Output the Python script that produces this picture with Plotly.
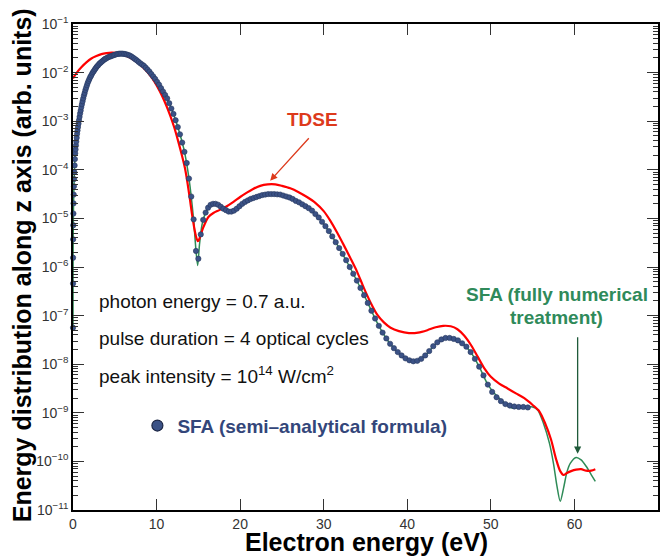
import plotly.graph_objects as go

# ---------------- data ----------------
# SFA semi-analytical formula: dots (electron energy in eV, log10 of distribution)
blue_energy = [
    0.0014, 0.0054, 0.0122, 0.0218, 0.034, 0.049, 0.0667, 0.0871, 0.110, 0.136,
    0.165, 0.196, 0.230, 0.267, 0.306, 0.348, 0.393, 0.441, 0.491, 0.544,
    0.600, 0.659, 0.720, 0.784, 0.850, 0.920, 0.992, 1.067, 1.144, 1.225,
    1.308, 1.393, 1.482, 1.573, 1.667, 1.763, 1.863, 1.965, 2.069, 2.177,
    2.287, 2.400, 2.516, 2.634, 2.755, 2.879, 3.005, 3.135, 3.267, 3.401,
    3.539, 3.679, 3.822, 3.967, 4.116, 4.267, 4.420, 4.577, 4.736, 4.898,
    5.063, 5.230, 5.400, 5.573, 5.748, 5.927, 6.108, 6.291, 6.478, 6.667,
    6.859, 7.053, 7.250, 7.450, 7.653, 7.859, 8.067, 8.278, 8.491, 8.708,
    8.927, 9.149, 9.373, 9.600, 9.830, 10.063, 10.298, 10.536, 10.777, 11.021,
    11.267, 11.516, 11.768, 12.022, 12.279, 12.539, 12.801, 13.067, 13.335, 13.606,
    13.879, 14.155, 14.434, 14.716, 15.000, 15.287, 15.577, 15.870, 16.165, 16.463,
    16.763, 17.067, 17.373, 17.682, 17.994, 18.308, 18.625, 18.945, 19.267, 19.592,
    19.920, 20.252, 20.585, 20.920, 21.259, 21.601, 21.945, 22.292, 22.641, 22.994,
    23.349, 23.706, 24.067, 24.430, 24.796, 25.165, 25.536, 25.910, 26.287, 26.667,
    27.049, 27.434, 27.822, 28.213, 28.606, 29.002, 29.401, 29.802, 30.206, 30.613,
    31.022, 31.434, 31.849, 32.267, 32.687, 33.111, 33.537, 33.966, 34.397, 34.831,
    35.268, 35.707, 36.149, 36.594, 37.042, 37.492, 37.945, 38.401, 38.860, 39.321,
    39.785, 40.251, 40.721, 41.193, 41.668, 42.145, 42.625, 43.108, 43.594, 44.083,
    44.574, 45.068, 45.564, 46.064, 46.566, 47.071, 47.578, 48.089, 48.602, 49.117,
    49.636, 50.157, 50.681, 51.207, 51.737, 52.269, 52.803, 53.341, 53.881, 54.423,
]
blue_log10 = [
    -7.25, -6.34, -5.81, -5.43, -5.14, -4.90, -4.69, -4.51, -4.34, -4.19,
    -4.05, -3.91, -3.78, -3.66, -3.58, -3.50, -3.42, -3.34, -3.26, -3.19,
    -3.12, -3.05, -2.98, -2.91, -2.84, -2.78, -2.71, -2.65, -2.59, -2.53,
    -2.47, -2.42, -2.36, -2.31, -2.26, -2.21, -2.17, -2.13, -2.09, -2.06,
    -2.02, -1.99, -1.96, -1.93, -1.90, -1.87, -1.85, -1.82, -1.80, -1.78,
    -1.76, -1.74, -1.72, -1.71, -1.69, -1.68, -1.67, -1.66, -1.65, -1.64,
    -1.63, -1.62, -1.615, -1.61, -1.61, -1.61, -1.615, -1.62, -1.63, -1.64,
    -1.655, -1.675, -1.70, -1.725, -1.75, -1.78, -1.81, -1.835, -1.86, -1.90,
    -1.94, -1.98, -2.03, -2.08, -2.13, -2.19, -2.25, -2.32, -2.39, -2.46,
    -2.53, -2.63, -2.74, -2.85, -2.98, -3.12, -3.27, -3.44, -3.63, -3.86,
    -4.18, -4.55, -5.02, -5.67, -5.83, -5.33, -5.03, -4.88, -4.78, -4.72,
    -4.70, -4.70, -4.72, -4.76, -4.80, -4.83, -4.86, -4.86, -4.84, -4.80,
    -4.75, -4.70, -4.66, -4.63, -4.60, -4.58, -4.56, -4.54, -4.52, -4.51,
    -4.50, -4.50, -4.50, -4.505, -4.51, -4.53, -4.55, -4.57, -4.60, -4.64,
    -4.67, -4.71, -4.75, -4.79, -4.84, -4.91, -4.98, -5.07, -5.16, -5.26,
    -5.37, -5.49, -5.61, -5.73, -5.86, -6.00, -6.14, -6.28, -6.43, -6.58,
    -6.74, -6.90, -7.06, -7.21, -7.35, -7.47, -7.58, -7.67, -7.75, -7.82,
    -7.88, -7.92, -7.94, -7.93, -7.89, -7.82, -7.73, -7.63, -7.55, -7.49,
    -7.46, -7.46, -7.48, -7.51, -7.57, -7.64, -7.75, -7.89, -8.05, -8.23,
    -8.42, -8.57, -8.68, -8.76, -8.82, -8.85, -8.87, -8.88, -8.88, -8.89,
]

# TDSE (red line)
red_energy = [
    0, 0.5, 1.0, 1.6, 2.2, 2.8, 3.4, 4.0, 4.6, 5.2, 5.8, 6.4, 7.0, 7.8, 8.6,
    9.2, 9.8, 10.4, 11.0, 11.6, 12.1, 12.6, 13.0, 13.4, 13.7, 14.0, 14.3, 14.6,
    14.8, 14.95, 15.1, 15.3, 15.6, 16.2, 16.8, 17.5, 18.4, 19.2, 20.0, 20.8,
    21.5, 22.4, 23.3, 24.2, 25.0, 26.0, 27.0, 28.0, 29.0, 30.0, 30.8, 31.6,
    32.4, 33.2, 34.0, 34.8, 35.6, 36.4, 37.2, 38.0, 39.0, 40.2, 41.3, 42.4,
    43.4, 44.3, 45.2, 46.0, 46.8, 47.6, 48.4, 49.2, 50.0, 51.0, 52.0, 53.0,
    54.0, 55.0, 55.8, 56.5, 57.2, 57.8, 58.3, 58.7, 59.1, 59.6, 60.2, 60.8,
    61.4, 62.0, 62.5,
]
red_log10 = [
    -2.12, -1.99, -1.89, -1.79, -1.71, -1.66, -1.62, -1.60, -1.59, -1.595,
    -1.62, -1.66, -1.71, -1.80, -1.93, -2.05, -2.20, -2.39, -2.61, -2.87,
    -3.12, -3.42, -3.68, -3.97, -4.27, -4.62, -4.98, -5.28, -5.42, -5.47,
    -5.43, -5.33, -5.18, -4.97, -4.89, -4.83, -4.75, -4.66, -4.56, -4.47,
    -4.40, -4.33, -4.30, -4.30, -4.33, -4.38, -4.46, -4.56, -4.68, -4.85,
    -5.05, -5.29, -5.55, -5.82, -6.10, -6.43, -6.73, -6.98, -7.14, -7.25,
    -7.32, -7.36, -7.35, -7.30, -7.24, -7.21, -7.22, -7.28, -7.41, -7.60,
    -7.84, -8.08, -8.26, -8.40, -8.50, -8.60, -8.70, -8.84, -8.97, -9.22,
    -9.55, -9.95, -10.20, -10.28, -10.24, -10.20, -10.17, -10.16, -10.19, -10.19,
    -10.16,
]

# SFA fully numerical treatment (green line)
green_energy = [
    0.0014, 0.0122, 0.049, 0.136, 0.267, 0.60, 0.99, 1.57, 2.40, 3.40, 4.42,
    5.57, 6.67, 7.65, 8.71, 9.60, 10.54, 11.52, 12.28, 12.80, 13.34, 13.88,
    14.43, 14.72, 14.92, 15.13, 15.45, 15.87, 16.46, 17.07, 17.99, 18.95,
    19.92, 20.92, 22.29, 23.71, 25.17, 26.67, 28.21, 29.80, 31.43, 33.11,
    34.83, 36.59, 37.95, 39.32, 40.72, 42.15, 43.59, 45.07, 46.57, 47.58,
    48.60, 49.64, 50.68, 51.74, 52.50, 53.34, 54.42, 55.0, 55.6, 56.3, 57.0,
    57.5, 57.9, 58.3, 58.7, 59.1, 59.5, 60.2, 60.8, 61.4, 62.0, 62.5,
]
green_log10 = [
    -7.25, -5.81, -4.90, -4.19, -3.66, -3.12, -2.71, -2.31, -1.99, -1.78, -1.67,
    -1.61, -1.64, -1.75, -1.90, -2.08, -2.32, -2.63, -2.98, -3.27, -3.63, -4.18,
    -5.02, -5.67, -5.97, -5.55, -5.12, -4.88, -4.72, -4.70, -4.80, -4.86,
    -4.75, -4.63, -4.54, -4.50, -4.53, -4.64, -4.79, -5.07, -5.49, -6.00,
    -6.58, -7.21, -7.58, -7.82, -7.94, -7.82, -7.55, -7.46, -7.57, -7.75,
    -8.05, -8.42, -8.65, -8.81, -8.90, -8.89, -8.88, -8.88, -8.94, -9.22, -9.62,
    -10.05, -10.50, -10.82, -10.55, -10.22, -10.04, -9.92, -9.97, -10.10, -10.27,
    -10.41,
]

x_ticks = [0, 10, 20, 30, 40, 50, 60, 70]
y_exponents = [-11, -10, -9, -8, -7, -6, -5, -4, -3, -2, -1]
y_minor_mantissas = [2, 3, 4, 5, 6, 7, 8, 9]

# ---------------- styling ----------------
FONT = "Liberation Sans, Arial, Helvetica, sans-serif"
RED = "#ff0000"
TDSE_COL = "#dd3a1c"
GREEN = "#2e8b57"
GREEN_TXT = "#2f8a5a"
GREEN_ARROW = "#1f5a3a"
BLUE = "#3b5286"
BLUE_EDGE = "#27375e"
BLUE_TXT = "#33467a"

fig = go.Figure()

fig.add_trace(go.Scatter(
    x=green_energy, y=[10 ** v for v in green_log10],
    mode="lines", line=dict(color=GREEN, width=1.5, shape="spline", smoothing=0.8),
    showlegend=False, hoverinfo="skip"))

fig.add_trace(go.Scatter(
    x=red_energy, y=[10 ** v for v in red_log10],
    mode="lines", line=dict(color=RED, width=2.2, shape="spline", smoothing=0.8),
    showlegend=False, hoverinfo="skip"))

fig.add_trace(go.Scatter(
    x=blue_energy, y=[10 ** v for v in blue_log10],
    mode="markers", cliponaxis=False,
    marker=dict(color=BLUE, size=5.3, line=dict(color=BLUE_EDGE, width=0.6)),
    showlegend=False, hoverinfo="skip"))

# legend-only entry for the dots
fig.add_trace(go.Scatter(
    x=[None], y=[None], mode="markers",
    name="<b>SFA (semi\u2013analytical formula)</b>",
    marker=dict(color=BLUE, size=11, line=dict(color="#1c2644", width=1.2)),
    showlegend=True))

# plot area pixel geometry helpers (paper coordinates)
L_PX, R_PX, T_PX, B_PX = 72.5, 658.5, 24.3, 510.3
def px(xp):
    return (xp - L_PX) / (R_PX - L_PX)
def py(yp):
    return (B_PX - yp) / (B_PX - T_PX)

def note(text, x, y, size=19, color="#111", bold=False, xanchor="center", angle=0):
    return dict(text=("<b>%s</b>" % text) if bold else text,
                x=px(x), y=py(y), xref="paper", yref="paper",
                xanchor=xanchor, yanchor="middle", textangle=angle, showarrow=False,
                font=dict(family=FONT, size=size, color=color))

annotations = [
    note("TDSE", 312, 120, color=TDSE_COL, bold=True),
    dict(text="", x=px(270), y=py(181), xref="paper", yref="paper",
         showarrow=True, ax=40, ay=-44, arrowhead=2, arrowsize=1.1, arrowwidth=1.3,
         arrowcolor=TDSE_COL),
    note("SFA (fully numerical", 557, 295, color=GREEN_TXT, bold=True),
    note("treatment)", 557, 318, color=GREEN_TXT, bold=True),
    dict(text="", x=px(578), y=py(454), xref="paper", yref="paper",
         showarrow=True, ax=0, ay=-118, arrowhead=2, arrowsize=1.1, arrowwidth=1.3,
         arrowcolor=GREEN_ARROW),
    note("photon energy = 0.7 a.u.", 97, 302, xanchor="left"),
    note("pulse duration = 4 optical cycles", 97, 339, xanchor="left"),
    note("peak intensity = 10<sup>14</sup> W/cm<sup>2</sup>", 97, 375, xanchor="left"),
    note("Energy distribution along z axis (arb. units)", 21, 266, size=25,
         color="#000", bold=True, angle=-90),
    note("Electron energy (eV)", 367, 542, size=25, color="#000", bold=True),
]

fig.update_layout(
    width=665, height=558,
    margin=dict(l=L_PX, r=665 - R_PX, t=T_PX, b=558 - B_PX, pad=0),
    paper_bgcolor="white", plot_bgcolor="white",
    font=dict(family=FONT, size=14, color="#333"),
    annotations=annotations,
    legend=dict(x=px(137), y=py(426), xanchor="left", yanchor="middle",
                bgcolor="rgba(0,0,0,0)", font=dict(family=FONT, size=19, color=BLUE_TXT),
                itemclick=False, itemdoubleclick=False),
    xaxis=dict(
        range=[0, 70], tickvals=x_ticks, ticktext=[str(v) for v in x_ticks],
        showline=True, linecolor="#000", linewidth=1.6, mirror="ticks",
        ticks="inside", ticklen=11, tickwidth=1, tickcolor="#333",
        showgrid=False, zeroline=False, tickfont=dict(size=14, color="#333"),
    ),
    yaxis=dict(
        type="log", range=[y_exponents[0], y_exponents[-1]],
        tickmode="array",
        tickvals=[10.0 ** e for e in y_exponents],
        ticktext=["10<sup>\u2212%d</sup>" % (-e) for e in y_exponents],
        showline=True, linecolor="#000", linewidth=1.6, mirror="ticks",
        ticks="inside", ticklen=11, tickwidth=1, tickcolor="#333",
        minor=dict(tickmode="array",
                   tickvals=[m * 10.0 ** e for e in y_exponents[:-1]
                             for m in y_minor_mantissas],
                   ticks="inside", ticklen=5, tickwidth=1, tickcolor="#333",
                   showgrid=False),
        showgrid=False, zeroline=False, tickfont=dict(size=14, color="#333"),
    ),
)

fig.write_html("out.html")
